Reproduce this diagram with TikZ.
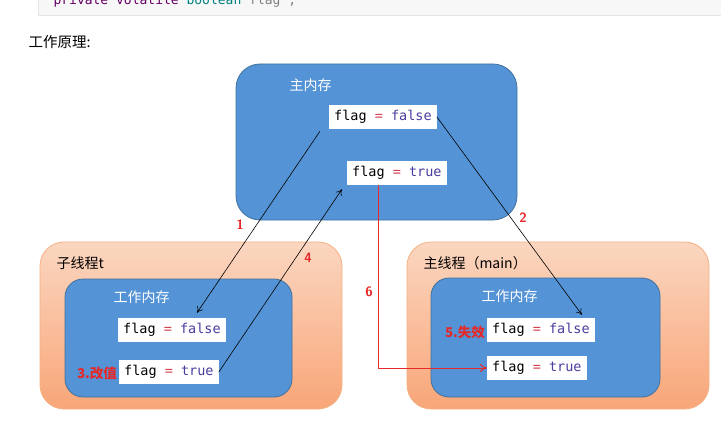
\documentclass[tikz,border=0pt]{standalone}
\usepackage{fontspec}
\setmonofont{DejaVu Sans Mono}
\newfontfamily\cjk{Noto Sans CJK SC}
\usetikzlibrary{positioning,arrows.meta}

\definecolor{memblue}{RGB}{84,148,214}
\definecolor{memedge}{RGB}{65,113,156}
\definecolor{thrtop}{RGB}{251,214,192}
\definecolor{thrbot}{RGB}{248,166,120}
\definecolor{thredge}{RGB}{244,177,131}
\definecolor{eqred}{RGB}{214,64,80}
\definecolor{valblue}{RGB}{72,62,160}
\definecolor{stepred}{RGB}{230,40,40}
\definecolor{codebg}{RGB}{247,247,247}

\newcommand{\flagval}[1]{flag {\color{eqred}=} {\color{valblue}#1}}

\begin{document}
\begin{tikzpicture}[
    x=1pt, y=-1pt,
    membox/.style={rectangle, draw=memedge, fill=memblue, line width=0.8pt, rounded corners=24pt},
    workbox/.style={rectangle, draw=memedge, fill=memblue, line width=0.8pt, rounded corners=18pt},
    thread/.style={rectangle, draw=thredge, top color=thrtop, bottom color=thrbot, line width=0.8pt, rounded corners=24pt},
    flagbox/.style={rectangle, fill=white, anchor=west, font=\ttfamily\fontsize{13.5}{15}\selectfont, minimum height=24pt, inner xsep=5pt, inner ysep=3pt},
    title/.style={font=\cjk\fontsize{14}{16}\selectfont, anchor=west},
    wtitle/.style={title, text=white},
    steplabel/.style={font=\sffamily\bfseries\fontsize{13.5}{15}\selectfont, text=stepred},
    cjkstep/.style={steplabel, font=\cjk\bfseries\fontsize{13.5}{15}\selectfont},
    flow/.style={-{To[length=6pt,width=7pt]}, line width=0.6pt, black},
    redflow/.style={-{To[length=7pt,width=8pt]}, line width=1pt, stepred}
]
    \useasboundingbox (0,0) rectangle (721,428);

    % Code line above
    \node[rectangle, draw={rgb,255:red,229;green,229;blue,229}, fill=codebg, minimum width=700pt, minimum height=24pt, anchor=south west] (code) at (38,15) {};
    \node[anchor=west, font=\ttfamily\fontsize{13}{15}\selectfont] (codeline) at (50,1) {{\color{violet!80!black}private volatile} {\color{teal}boolean} {\color{gray}flag ;}};
    \node[title, font=\cjk\fontsize{14.5}{16}\selectfont] (heading) at (25,42) {工作原理:};

    % Main memory
    \node[membox, minimum width=281pt, minimum height=156pt] (main) at (376.5,142) {};
    \node[wtitle] (maintitle) at (286,85) {主内存};
    \node[flagbox] (mfalse) at (329,117) {\flagval{false}};
    \node[flagbox] (mtrue) at (347,173) {\flagval{true}};

    % Thread t
    \node[thread, minimum width=302pt, minimum height=167pt] (tthread) at (191,325.5) {};
    \node[title] (ttitle) at (53,263) {子线程t};
    \node[workbox, minimum width=227pt, minimum height=118pt] (twork) at (178.5,338) {};
    \node[wtitle] (tworktitle) at (110,297) {工作内存};
    \node[flagbox] (tfalse) at (118,330) {\flagval{false}};
    \node[flagbox] (ttrue) at (119,372) {\flagval{true}};
    \node[cjkstep] (step3) at (97,373) {3.改值};

    % Main thread
    \node[thread, minimum width=302pt, minimum height=167pt] (rthread) at (558,325.5) {};
    \node[title] (rtitle) at (420,263) {主线程（main）};
    \node[workbox, minimum width=229pt, minimum height=119pt] (rwork) at (545.5,337.5) {};
    \node[wtitle] (rworktitle) at (478,296) {工作内存};
    \node[flagbox] (rfalse) at (487,330) {\flagval{false}};
    \node[flagbox] (rtrue) at (487,368) {\flagval{true}};
    \node[cjkstep] (step5) at (465,332) {5.失效};

    % Flows
    \draw[flow] ([shift={(-9,2)}]mfalse.south west) -- ([xshift=25pt,yshift=5pt]tfalse.north);
    \node[steplabel] (step1) at (240,225) {1};
    \draw[flow] (mfalse.east) -- ([xshift=-13pt,yshift=3pt]rfalse.north east);
    \node[steplabel] (step2) at (523,218) {2};
    \draw[flow] (ttrue.east) -- ([shift={(-5,4)}]mtrue.south west);
    \node[steplabel] (step4) at (308,258) {4};
    \draw[redflow] ([xshift=-18pt]mtrue.south) |- (rtrue.west);
    \node[steplabel] (step6) at (369,292) {6};
\end{tikzpicture}
\end{document}
